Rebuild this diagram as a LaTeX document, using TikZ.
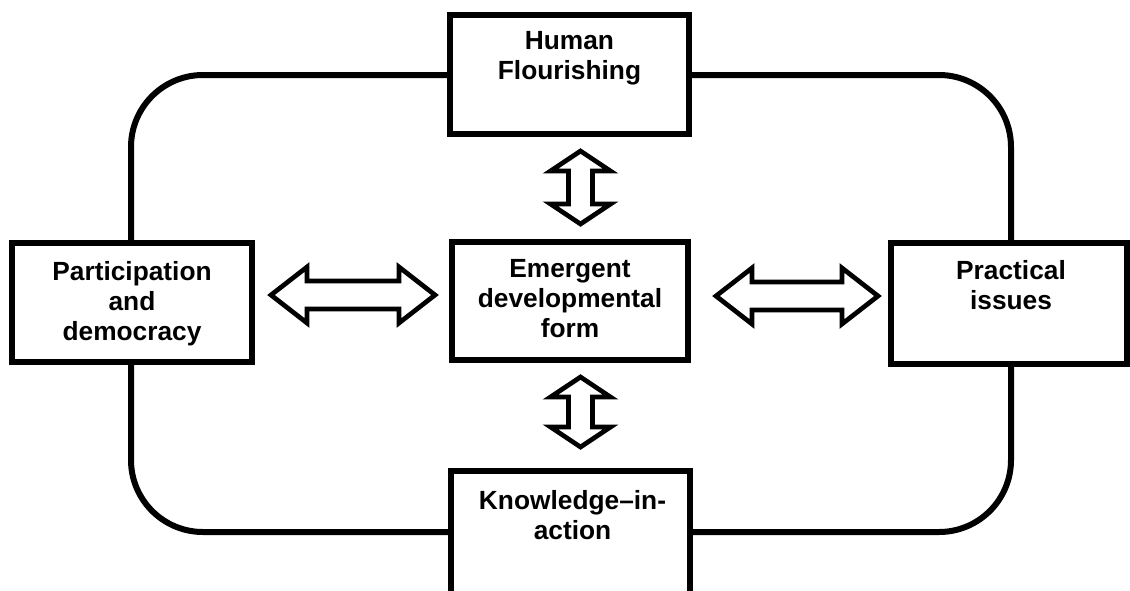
\documentclass[tikz,border=0pt]{standalone}
\usepackage{fontspec}
\setmainfont{Liberation Sans}
\begin{document}
\begin{tikzpicture}[x=1pt,y=-1pt,
  loopline/.style={line width=6pt},
  frame/.style={draw, line width=6pt, fill=white, inner sep=0pt},
  caption/.style={anchor=north, inner sep=0pt, align=center,
    font=\fontsize{26.3}{30}\selectfont\bfseries},
  outline/.style={draw, line width=4.7pt, fill=white, line join=miter},
  % two-headed outline arrow, drawn from its left tip, total length #1
  pics/hbiarrow/.style={code={
    \path[outline] (0,0) -- (36,-28) -- (36,-14) -- (#1-36,-14) -- (#1-36,-28)
      -- (#1,0) -- (#1-36,28) -- (#1-36,14) -- (36,14) -- (36,28) -- cycle;}},
  % two-headed outline arrow, drawn from its top tip, total length #1
  pics/vbiarrow/.style={code={
    \path[outline] (0,0) -- (-30,20) -- (-12,20) -- (-12,#1-20) -- (-30,#1-20)
      -- (0,#1) -- (30,#1-20) -- (12,#1-20) -- (12,20) -- (30,20) -- cycle;}}]
\useasboundingbox (0,0) rectangle (1130,590);
\clip (0,0) rectangle (1130,590);

% outer cycle linking the four outer boxes
\draw[loopline, rounded corners=72pt] (131,75) rectangle (1011,532);

% boxes
\node[frame, minimum width=239pt, minimum height=119pt] (hf) at (569.5,74.5) {};
\node[frame, minimum width=236pt, minimum height=118pt] (edf) at (570,301) {};
\node[frame, minimum width=240pt, minimum height=119pt] (pd) at (132,302.5) {};
\node[frame, minimum width=236pt, minimum height=121pt] (pi) at (1009,303.5) {};
\node[frame, minimum width=239pt, minimum height=129pt] (kia) at (570.5,535.5) {};

% box texts, set from the top of each box
\node[caption] (hf-text) at ([yshift=-19pt]hf.north) {Human\\Flourishing};
\node[caption] (edf-text) at ([yshift=-20pt]edf.north) {Emergent\\developmental\\form};
\node[caption] (pd-text) at ([yshift=-21pt]pd.north) {Participation\\and\\democracy};
\node[caption] (pi-text) at ([xshift=2pt,yshift=-20pt]pi.north) {Practical\\issues};
\node[caption] (kia-text) at ([xshift=2pt,yshift=-22pt]kia.north) {Knowledge--in-\\action};

% two-way arrows between the centre box and its neighbours
\coordinate (a-up) at (580.5,151);
\coordinate (a-down) at (580.5,377);
\coordinate (a-left) at (271,295);
\coordinate (a-right) at (716,296);
\pic at (a-up) {vbiarrow=73};
\pic at (a-down) {vbiarrow=70};
\pic at (a-left) {hbiarrow=164};
\pic at (a-right) {hbiarrow=162};
\end{tikzpicture}
\end{document}
